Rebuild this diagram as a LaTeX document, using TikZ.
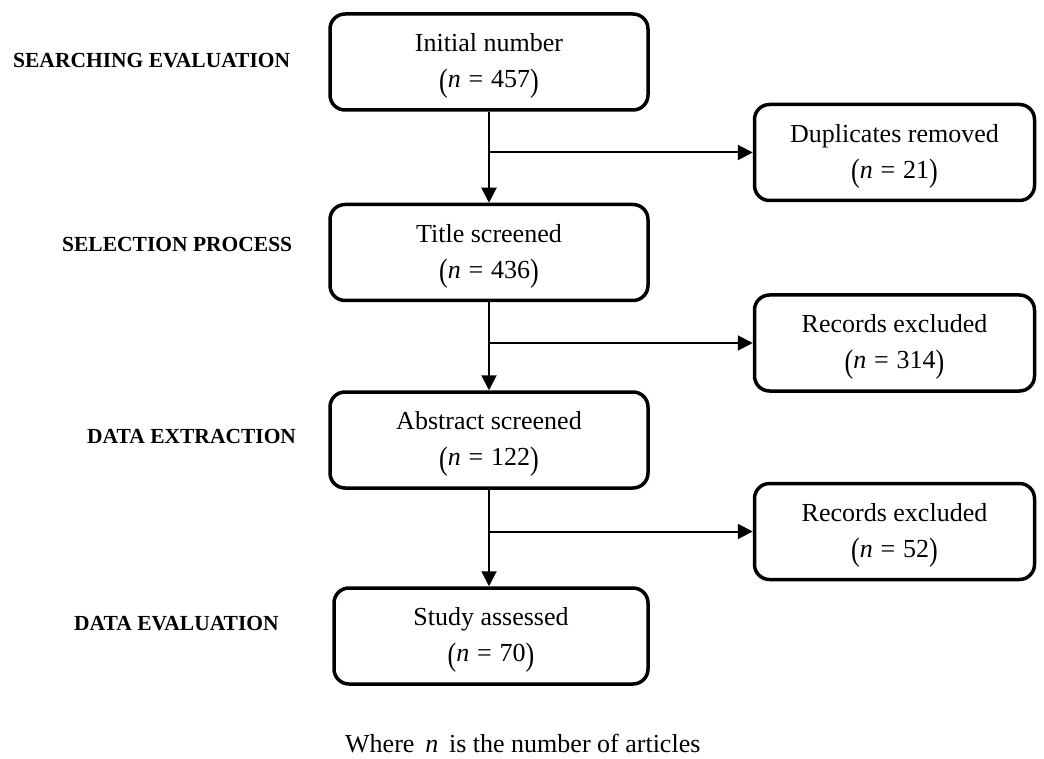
\documentclass[tikz,border=0pt]{standalone}
\usepackage{fontspec}
\setmainfont{Liberation Serif}
\usepackage{graphicx}
\usetikzlibrary{arrows.meta}
\newcommand{\bp}[1]{\raisebox{-0.12em}{\scalebox{1}[1.25]{(}}#1\raisebox{-0.12em}{\scalebox{1}[1.25]{)}}}
\newcommand{\nval}[1]{\bp{\textit{n}\hspace{0.3em}=\hspace{0.3em}#1}}
\newcommand{\tl}{\rule{0pt}{26pt}}
\begin{document}
\begin{tikzpicture}[x=1pt,y=-1pt,
  box/.style={draw, rectangle, rounded corners=15pt, line width=3.5pt,
    minimum width=318pt, minimum height=96pt, align=center, inner sep=0pt,
    font=\fontsize{26}{36}\selectfont},
  sbox/.style={box, minimum width=280pt},
  arr/.style={line width=2pt, -{Triangle[length=15pt,width=15pt]}},
  lab/.style={anchor=base west, inner sep=0pt, font=\fontsize{21.5}{26}\selectfont\bfseries}
]
\useasboundingbox (0,0) rectangle (1044,759);
\node[box] (b1) at (489,62) {\tl Initial number\\\nval{457}};
\node[box] (b2) at (489,252.5) {\tl Title screened\\\nval{436}};
\node[box] (b3) at (489,440) {\tl Abstract screened\\\nval{122}};
\node[box, minimum width=314pt] (b4) at (491,636) {\tl Study assessed\\\nval{70}};
\node[sbox] (r1) at (894.5,152.5) {\tl Duplicates removed\\\nval{21}};
\node[sbox] (r2) at (894.5,343) {\tl Records excluded\\\nval{314}};
\node[sbox] (r3) at (894.5,531.5) {\tl Records excluded\\\nval{52}};

\draw[arr] (b1.south -| 489,0) -- (b2.north -| 489,0);
\draw[arr] (b2.south -| 489,0) -- (b3.north -| 489,0);
\draw[arr] (b3.south -| 489,0) -- (b4.north -| 489,0);
\coordinate (j1) at (489,152.5);
\coordinate (j2) at (489,343);
\coordinate (j3) at (489,531.5);
\draw[arr] (j1) -- (r1.west);
\draw[arr] (j2) -- (r2.west);
\draw[arr] (j3) -- (r3.west);

\node[lab] (l1) at (13,68) {SEARCHING EVALUATION};
\node[lab] (l2) at (62,252) {SELECTION PROCESS};
\node[lab] (l3) at (87,443) {DATA EXTRACTION};
\node[lab] (l4) at (74,630) {DATA EVALUATION};

\node[anchor=base west, inner sep=0pt, font=\fontsize{26}{30}\selectfont] (cap) at (345,752) {Where \,\textit{n}\, is the number of articles};
\end{tikzpicture}
\end{document}
